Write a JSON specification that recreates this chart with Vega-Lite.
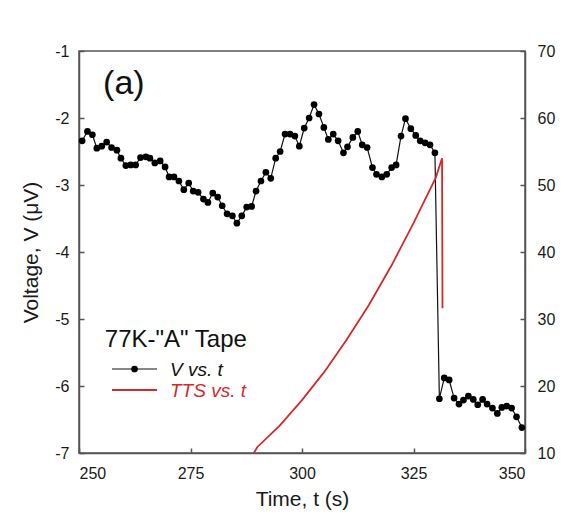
{
  "$schema": "https://vega.github.io/schema/vega-lite/v6.json",
  "width": 446,
  "height": 402,
  "autosize": {"type": "none"},
  "padding": {"left": 79, "top": 51, "right": 48, "bottom": 68},
  "background": "white",
  "config": {
    "font": "Liberation Sans",
    "view": {"stroke": "#555", "strokeWidth": 1.5},
    "axis": {
      "grid": false,
      "labelFont": "Liberation Sans",
      "labelFontSize": 16,
      "labelColor": "#1a1a1a",
      "labelExpr": "'' + datum.value",
      "titleFont": "Liberation Sans",
      "titleFontSize": 21,
      "titleFontWeight": "normal",
      "titleColor": "#1a1a1a",
      "domainColor": "#555",
      "domainWidth": 1.5,
      "tickColor": "#555",
      "tickWidth": 1.5,
      "tickSize": -5
    }
  },
  "datasets": {
    "volt": [
      {"t": 250.7, "V": -2.34}, {"t": 251.9, "V": -2.20}, {"t": 253.0, "V": -2.25}, {"t": 254.0, "V": -2.45},
      {"t": 255.1, "V": -2.42}, {"t": 256.2, "V": -2.36}, {"t": 257.3, "V": -2.44}, {"t": 258.5, "V": -2.48},
      {"t": 259.4, "V": -2.60}, {"t": 260.5, "V": -2.71}, {"t": 261.6, "V": -2.70}, {"t": 262.7, "V": -2.70},
      {"t": 263.8, "V": -2.59}, {"t": 265.0, "V": -2.58}, {"t": 265.9, "V": -2.60}, {"t": 267.0, "V": -2.67},
      {"t": 268.2, "V": -2.64}, {"t": 269.3, "V": -2.73}, {"t": 270.2, "V": -2.88}, {"t": 271.3, "V": -2.88},
      {"t": 272.4, "V": -2.94}, {"t": 273.5, "V": -3.07}, {"t": 274.6, "V": -2.97}, {"t": 275.6, "V": -3.09},
      {"t": 276.7, "V": -3.11}, {"t": 277.9, "V": -3.21}, {"t": 278.9, "V": -3.26}, {"t": 280.0, "V": -3.12},
      {"t": 281.1, "V": -3.18}, {"t": 282.1, "V": -3.31}, {"t": 283.2, "V": -3.43}, {"t": 284.4, "V": -3.46},
      {"t": 285.4, "V": -3.57}, {"t": 286.5, "V": -3.46}, {"t": 287.6, "V": -3.33}, {"t": 288.7, "V": -3.32},
      {"t": 289.7, "V": -3.09}, {"t": 290.8, "V": -2.94}, {"t": 291.9, "V": -2.81}, {"t": 293.0, "V": -2.90},
      {"t": 294.1, "V": -2.60}, {"t": 295.1, "V": -2.50}, {"t": 296.2, "V": -2.24}, {"t": 297.3, "V": -2.24},
      {"t": 298.4, "V": -2.27}, {"t": 299.4, "V": -2.42}, {"t": 300.5, "V": -2.15}, {"t": 301.6, "V": -2.00},
      {"t": 302.7, "V": -1.80}, {"t": 303.8, "V": -1.94}, {"t": 304.9, "V": -2.14}, {"t": 305.9, "V": -2.32},
      {"t": 307.0, "V": -2.24}, {"t": 308.1, "V": -2.34}, {"t": 309.3, "V": -2.52}, {"t": 310.2, "V": -2.43},
      {"t": 311.4, "V": -2.29}, {"t": 312.5, "V": -2.20}, {"t": 313.5, "V": -2.40}, {"t": 314.6, "V": -2.44},
      {"t": 315.8, "V": -2.74}, {"t": 316.7, "V": -2.84}, {"t": 317.9, "V": -2.88}, {"t": 319.0, "V": -2.84},
      {"t": 320.1, "V": -2.74}, {"t": 321.1, "V": -2.70}, {"t": 322.2, "V": -2.27}, {"t": 323.2, "V": -2.01},
      {"t": 324.4, "V": -2.16}, {"t": 325.5, "V": -2.26}, {"t": 326.5, "V": -2.34}, {"t": 327.6, "V": -2.37},
      {"t": 328.7, "V": -2.40}, {"t": 329.8, "V": -2.52}, {"t": 330.8, "V": -6.19}, {"t": 331.9, "V": -5.88},
      {"t": 333.0, "V": -5.91}, {"t": 334.1, "V": -6.18}, {"t": 335.2, "V": -6.27}, {"t": 336.2, "V": -6.21},
      {"t": 337.3, "V": -6.15}, {"t": 338.4, "V": -6.20}, {"t": 339.4, "V": -6.28}, {"t": 340.5, "V": -6.20},
      {"t": 341.5, "V": -6.27}, {"t": 342.7, "V": -6.33}, {"t": 343.8, "V": -6.41}, {"t": 344.8, "V": -6.32},
      {"t": 345.9, "V": -6.30}, {"t": 347.0, "V": -6.33}, {"t": 348.1, "V": -6.46}, {"t": 349.3, "V": -6.62}
    ],
    "tts": [
      {"t": 289.2, "TTS": 10.0}, {"t": 290, "TTS": 10.9}, {"t": 295, "TTS": 14.1}, {"t": 300, "TTS": 17.9},
      {"t": 305, "TTS": 22.1}, {"t": 310, "TTS": 26.9}, {"t": 315, "TTS": 32.1}, {"t": 320, "TTS": 37.9},
      {"t": 325, "TTS": 44.3}, {"t": 330, "TTS": 51.1}, {"t": 331.4, "TTS": 54.0}, {"t": 331.5, "TTS": 31.6}
    ],
    "labels": [
      {"t": 255.4, "V": -1.642, "label": "(a)", "kind": "panel"},
      {"t": 255.8, "V": -5.418, "label": "77K-\"A\" Tape", "kind": "head"}
    ],
    "legtext": [
      {"t": 270.4, "V": -5.851, "label": "V vs. t", "series": "V"},
      {"t": 270.4, "V": -6.164, "label": "TTS vs. t", "series": "TTS"}
    ],
    "legline": [
      {"t": 257.4, "t2": 267.5, "V": -5.746, "series": "V"},
      {"t": 257.4, "t2": 267.5, "V": -6.06, "series": "TTS"}
    ]
  },
  "layer": [
    {
      "layer": [
        {
          "data": {"name": "volt"},
          "mark": {"type": "line", "color": "#111", "strokeWidth": 1.2},
          "encoding": {
            "x": {"field": "t", "type": "quantitative", "scale": {"domain": [250, 350], "nice": false},
                  "axis": {"title": "Time, t (s)", "values": [250, 275, 300, 325, 350], "labelPadding": 17, "titlePadding": 7}},
            "y": {"field": "V", "type": "quantitative", "scale": {"domain": [-7, -1], "nice": false, "zero": false},
                  "axis": {"title": "Voltage, V (μV)", "orient": "left", "values": [-7, -6, -5, -4, -3, -2, -1], "labelPadding": 15, "titlePadding": 13}}
          }
        },
        {
          "data": {"name": "volt"},
          "mark": {"type": "circle", "color": "#000", "size": 45, "opacity": 1},
          "encoding": {
            "x": {"field": "t", "type": "quantitative"},
            "y": {"field": "V", "type": "quantitative"}
          }
        },
        {
          "data": {"name": "labels"},
          "transform": [{"filter": "datum.kind === 'panel'"}],
          "mark": {"type": "text", "fontSize": 34, "align": "left", "baseline": "alphabetic", "color": "#111"},
          "encoding": {
            "x": {"field": "t", "type": "quantitative"},
            "y": {"field": "V", "type": "quantitative"},
            "text": {"field": "label"}
          }
        },
        {
          "data": {"name": "labels"},
          "transform": [{"filter": "datum.kind === 'head'"}],
          "mark": {"type": "text", "fontSize": 24, "align": "left", "baseline": "alphabetic", "color": "#111"},
          "encoding": {
            "x": {"field": "t", "type": "quantitative"},
            "y": {"field": "V", "type": "quantitative"},
            "text": {"field": "label"}
          }
        },
        {
          "data": {"name": "legline"},
          "mark": {"type": "rule"},
          "encoding": {
            "x": {"field": "t", "type": "quantitative"},
            "x2": {"field": "t2"},
            "y": {"field": "V", "type": "quantitative"},
            "color": {"field": "series", "type": "nominal", "scale": {"domain": ["V", "TTS"], "range": ["#111", "#d42a2a"]}, "legend": null},
            "strokeWidth": {"condition": {"test": "datum.series === 'TTS'", "value": 1.8}, "value": 1.2}
          }
        },
        {
          "data": {"name": "legline"},
          "transform": [{"filter": "datum.series === 'V'"}, {"calculate": "(datum.t + datum.t2) / 2", "as": "tm"}],
          "mark": {"type": "circle", "color": "#000", "size": 45, "opacity": 1},
          "encoding": {
            "x": {"field": "tm", "type": "quantitative"},
            "y": {"field": "V", "type": "quantitative"}
          }
        },
        {
          "data": {"name": "legtext"},
          "mark": {"type": "text", "fontSize": 19, "fontStyle": "italic", "align": "left", "baseline": "alphabetic"},
          "encoding": {
            "x": {"field": "t", "type": "quantitative"},
            "y": {"field": "V", "type": "quantitative"},
            "text": {"field": "label"},
            "color": {"field": "series", "type": "nominal", "scale": {"domain": ["V", "TTS"], "range": ["#111", "#c8242a"]}, "legend": null}
          }
        }
      ]
    },
    {
      "data": {"name": "tts"},
      "mark": {"type": "line", "color": "#d42a2a", "strokeWidth": 1.8},
      "encoding": {
        "x": {"field": "t", "type": "quantitative"},
        "y": {"field": "TTS", "type": "quantitative", "scale": {"domain": [10, 70], "nice": false, "zero": false},
              "axis": {"title": null, "orient": "right", "values": [10, 20, 30, 40, 50, 60, 70], "labelPadding": 17}}
      }
    }
  ],
  "resolve": {"scale": {"y": "independent", "color": "independent"}}
}
